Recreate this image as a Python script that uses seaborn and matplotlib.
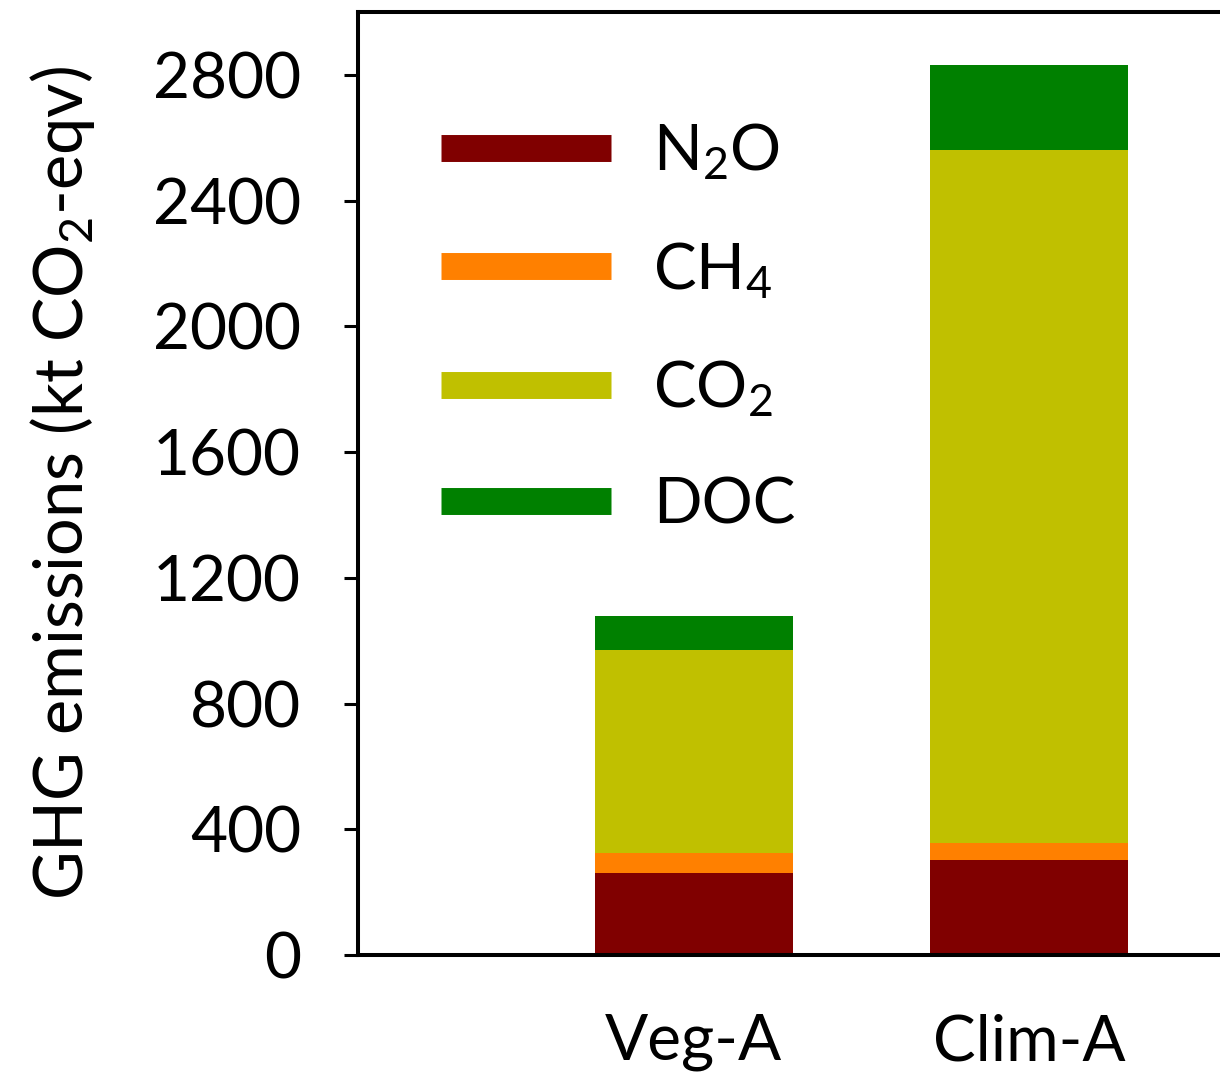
import seaborn as sns
import matplotlib.pyplot as plt
import pandas as pd
from matplotlib.lines import Line2D

# data (kt CO2-eqv)
scenarios = ["Veg-A", "Clim-A"]
n2o = [261, 302]
ch4 = [64, 55]
co2 = [646, 2204]
doc = [109, 270]

gases = ["N$_\\mathregular{2}$O", "CH$_\\mathregular{4}$", "CO$_\\mathregular{2}$", "DOC"]
colors = ["#800000", "#ff8000", "#c0c000", "#008000"]

sns.set_style("ticks")
plt.rcParams["font.family"] = ["Lato", "DejaVu Sans"]
plt.rcParams["mathtext.fontset"] = "custom"
plt.rcParams["mathtext.rm"] = "Lato"
plt.rcParams["mathtext.it"] = "Lato"
plt.rcParams["text.color"] = "black"
plt.rcParams["axes.labelcolor"] = "black"
plt.rcParams["xtick.color"] = "black"
plt.rcParams["ytick.color"] = "black"

fig = plt.figure(figsize=(12.2, 10.72), dpi=100)
ax = fig.add_axes([0.2934, 0.1091, 0.7066, 0.8797])

# stacked bars: draw cumulative totals from the top down
df = pd.DataFrame({"scenario": scenarios, "n2o": n2o, "ch4": ch4, "co2": co2, "doc": doc})
layers = ["n2o", "ch4", "co2", "doc"]
for i in range(len(layers), 0, -1):
    df["cum"] = df[layers[:i]].sum(axis=1)
    sns.barplot(data=df, x="scenario", y="cum", color=colors[i - 1], saturation=1,
                width=0.59, ax=ax, linewidth=0)

ax.set_xlim(-1, 1.568)
ax.set_ylim(0, 3000)
ax.set_yticks(range(0, 2801, 400))
ax.set_xlabel("")
ax.set_ylabel("GHG emissions (kt CO$_\\mathregular{2}$-eqv)", fontsize=48, labelpad=40)
ax.tick_params(axis="y", labelsize=46, length=10, width=2.2, pad=31)
ax.tick_params(axis="x", labelsize=46, length=0, pad=42)
for s in ["left", "top", "bottom"]:
    ax.spines[s].set_linewidth(2.9)
    ax.spines[s].set_color("black")
ax.spines["right"].set_visible(False)

handles = [Line2D([0], [0], color=c, lw=19.4, solid_capstyle="butt") for c in colors]
ax.legend(handles, gases, loc="upper left", bbox_to_anchor=(0.03, 0.945), frameon=False,
          fontsize=46, handlelength=2.66, handletextpad=0.65, labelspacing=0.9)

fig.savefig("out.png", dpi=100)
